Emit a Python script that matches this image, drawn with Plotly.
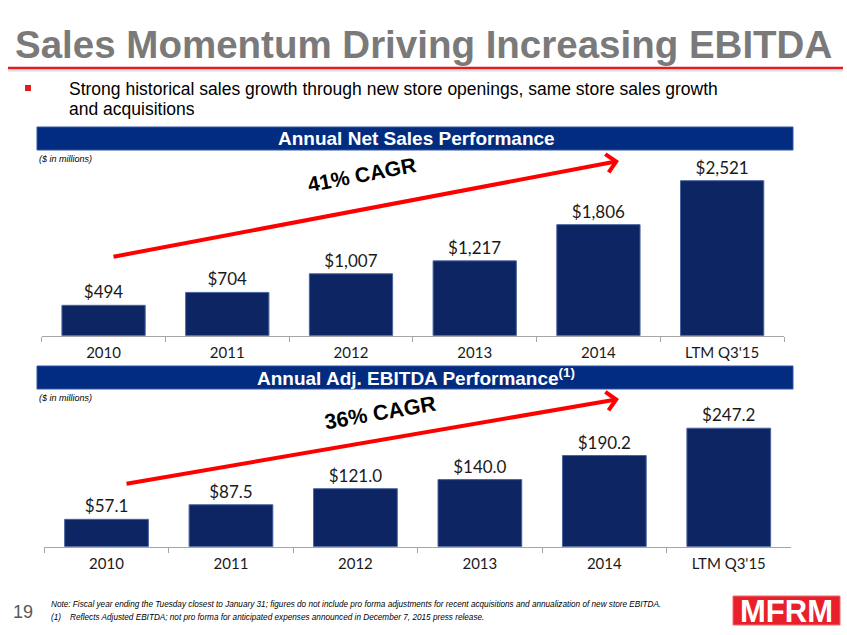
import plotly.graph_objects as go

# ---------------- data ----------------
categories = ["2010", "2011", "2012", "2013", "2014", "LTM Q3'15"]
net_sales = [494, 704, 1007, 1217, 1806, 2521]
adj_ebitda = [57.1, 87.5, 121.0, 140.0, 190.2, 247.2]
sales_labels = ["$" + format(v, ",.0f") for v in net_sales]
ebitda_labels = ["$" + format(v, ".1f") for v in adj_ebitda]

W, H = 847, 635
def px(x):
    return x / W
def py(y):
    return 1 - y / H

NAVY = "#0e2563"
HEADER = "#022c80"
RED = "#e31c23"
ARROW = "#ff0000"

fig = go.Figure()

fig.add_trace(go.Bar(
    x=categories, y=net_sales, text=sales_labels, textposition="outside",
    textfont=dict(family="Lato", size=17, color="#1a1a1a"),
    marker=dict(color=NAVY, line=dict(color="#4a64a0", width=1)),
    cliponaxis=False, xaxis="x", yaxis="y", hoverinfo="skip"))

fig.add_trace(go.Bar(
    x=categories, y=adj_ebitda, text=ebitda_labels, textposition="outside",
    textfont=dict(family="Lato", size=17, color="#1a1a1a"),
    marker=dict(color=NAVY, line=dict(color="#4a64a0", width=1)),
    cliponaxis=False, xaxis="x2", yaxis="y2", hoverinfo="skip"))

axis_common = dict(
    type="category", showgrid=False, zeroline=False, showline=True,
    linecolor="#a6a6a6", linewidth=1, ticks="outside", tickson="boundaries",
    ticklen=5, tickcolor="#a6a6a6", tickfont=dict(family="Lato", size=15, color="#1a1a1a"),
    ticklabelstandoff=3, range=[-0.5, 5.5], fixedrange=True)

fig.update_layout(
    width=W, height=H, margin=dict(l=0, r=0, t=0, b=0),
    paper_bgcolor="white", plot_bgcolor="white", showlegend=False,
    bargap=0.327,
    xaxis=dict(axis_common, domain=[px(41.7), px(784)], anchor="y"),
    yaxis=dict(domain=[py(335.7), py(150)], range=[0, 3020], visible=False, fixedrange=True),
    xaxis2=dict(axis_common, domain=[px(44.3), px(791)], anchor="y2"),
    yaxis2=dict(domain=[py(546.7), py(389)], range=[0, 329], visible=False, fixedrange=True),
)

shapes = []
# red rule under title
shapes.append(dict(type="line", xref="paper", yref="paper", x0=px(8), x1=px(843), y0=py(70.5), y1=py(70.5),
                   line=dict(color="#dcdcdc", width=2)))
shapes.append(dict(type="line", xref="paper", yref="paper", x0=px(8), x1=px(843), y0=py(68), y1=py(68),
                   line=dict(color=RED, width=2.5)))
# bullet
shapes.append(dict(type="rect", xref="paper", yref="paper", x0=px(25), x1=px(31), y0=py(85), y1=py(91),
                   fillcolor=RED, line=dict(width=0)))
# header bars
for top, bot in [(127, 150), (366, 389)]:
    shapes.append(dict(type="rect", xref="paper", yref="paper", x0=px(37), x1=px(793), y0=py(top), y1=py(bot),
                       fillcolor=HEADER, line=dict(color="#3355a5", width=1), layer="below"))
# logo box
shapes.append(dict(type="rect", xref="paper", yref="paper", x0=px(733), x1=px(840), y0=py(596), y1=py(625),
                   fillcolor="#e8202a", line=dict(color="#f26a6f", width=1)))
fig.update_layout(shapes=shapes)

ann = []
# title
ann.append(dict(text="<b>Sales Momentum Driving Increasing EBITDA</b>", x=px(423.5), y=py(45), xref="paper", yref="paper",
                showarrow=False, xanchor="center", yanchor="middle",
                font=dict(family="Liberation Sans", size=38.5, color="#7a7a7a")))
# bullet text
ann.append(dict(text="Strong historical sales growth through new store openings, same store sales growth",
                x=px(67), y=py(89), xref="paper", yref="paper", showarrow=False, xanchor="left", yanchor="middle",
                font=dict(family="Liberation Sans", size=17.5, color="#000000")))
ann.append(dict(text="and acquisitions",
                x=px(67), y=py(109), xref="paper", yref="paper", showarrow=False, xanchor="left", yanchor="middle",
                font=dict(family="Liberation Sans", size=17.5, color="#000000")))
# header texts
ann.append(dict(text="<b>Annual Net Sales Performance</b>", x=px(416), y=py(138.5), xref="paper", yref="paper",
                showarrow=False, xanchor="center", yanchor="middle",
                font=dict(family="Liberation Sans", size=19, color="white")))
ann.append(dict(text="<b>Annual Adj. EBITDA Performance<sup>(1)</sup></b>", x=px(416), y=py(377), xref="paper", yref="paper",
                showarrow=False, xanchor="center", yanchor="middle",
                font=dict(family="Liberation Sans", size=19, color="white")))
# units
for yy in [159, 398]:
    ann.append(dict(text="<i>($ in millions)</i>", x=px(37), y=py(yy), xref="paper", yref="paper",
                    showarrow=False, xanchor="left", yanchor="middle",
                    font=dict(family="Liberation Sans", size=9, color="#000000")))
# CAGR arrows
for tip, tail in [((619, 161), (112, 257)), ((619, 399), (125, 484))]:
    ann.append(dict(text="", x=px(tip[0]), y=py(tip[1]), xref="paper", yref="paper",
                    ax=tail[0] - tip[0], ay=tail[1] - tip[1], axref="pixel", ayref="pixel",
                    showarrow=True, arrowhead=4, arrowsize=0.9, arrowwidth=4, arrowcolor=ARROW))
ann.append(dict(text="<b>41% CAGR</b>", x=px(362), y=py(175), xref="paper", yref="paper", showarrow=False,
                xanchor="center", yanchor="middle",
                textangle=-10.7, font=dict(family="Liberation Sans", size=21, color="#000000")))
ann.append(dict(text="<b>36% CAGR</b>", x=px(380), y=py(413), xref="paper", yref="paper", showarrow=False,
                xanchor="center", yanchor="middle",
                textangle=-9.8, font=dict(family="Liberation Sans", size=21.5, color="#000000")))
# footnotes
ann.append(dict(text="<i>Note: Fiscal year ending the Tuesday closest to January 31; figures do not include pro forma adjustments for recent acquisitions and annualization of new store EBITDA.</i>",
                x=px(49), y=py(604), xref="paper", yref="paper", showarrow=False, xanchor="left", yanchor="middle",
                font=dict(family="Liberation Sans", size=8.2, color="#000000")))
ann.append(dict(text="<i>(1)</i>", x=px(49), y=py(617), xref="paper", yref="paper", showarrow=False,
                xanchor="left", yanchor="middle", font=dict(family="Liberation Sans", size=8.2, color="#000000")))
ann.append(dict(text="<i>Reflects Adjusted EBITDA; not pro forma for anticipated expenses announced in December 7, 2015 press release.</i>",
                x=px(68), y=py(617), xref="paper", yref="paper", showarrow=False, xanchor="left", yanchor="middle",
                font=dict(family="Liberation Sans", size=8.2, color="#000000")))
ann.append(dict(text="19", x=px(23), y=py(612), xref="paper", yref="paper", showarrow=False,
                xanchor="center", yanchor="middle", font=dict(family="Liberation Sans", size=18, color="#595959")))
ann.append(dict(text="<b>MFRM</b>", x=px(786.5), y=py(611), xref="paper", yref="paper", showarrow=False,
                xanchor="center", yanchor="middle", font=dict(family="Liberation Sans", size=31, color="white")))
fig.update_layout(annotations=ann)

fig.write_html("out.html", config={"displayModeBar": False, "staticPlot": True},
               post_script="document.body.style.margin='0';")
